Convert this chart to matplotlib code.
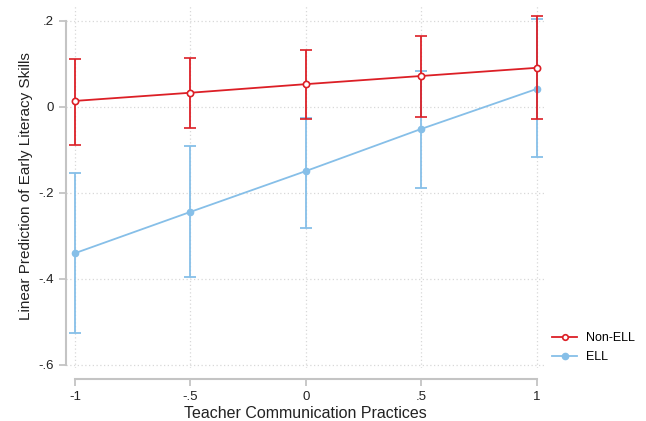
import matplotlib
matplotlib.use('Agg')
import matplotlib.pyplot as plt
from matplotlib.lines import Line2D

plt.rcParams['font.family'] = ['Liberation Sans', 'DejaVu Sans']

# data
x = [-1, -0.5, 0, 0.5, 1]
xticklabels = ['-1', '-.5', '0', '.5', '1']
yticks = [0.2, 0, -0.2, -0.4, -0.6]
yticklabels = ['.2', '0', '-.2', '-.4', '-.6']

nonell = [0.014, 0.033, 0.053, 0.072, 0.091]
nonell_lo = [-0.088, -0.049, -0.028, -0.023, -0.028]
nonell_hi = [0.112, 0.114, 0.133, 0.165, 0.212]

ell = [-0.340, -0.244, -0.149, -0.051, 0.042]
ell_lo = [-0.526, -0.395, -0.281, -0.188, -0.116]
ell_hi = [-0.153, -0.091, -0.026, 0.084, 0.205]

red = '#dc1f26'
blue = '#86bfe8'
gray = '#c4c4c4'

fig = plt.figure(figsize=(6.46, 4.21), dpi=100)
ax = fig.add_axes([66 / 646, 1 - 368 / 421, (545 - 66) / 646, (368 - 5) / 421])

def err(v, lo, hi):
    return [[a - b for a, b in zip(v, lo)], [b - a for a, b in zip(v, hi)]]

ax.errorbar(x, ell, yerr=err(ell, ell_lo, ell_hi), color=blue, lw=1.3,
            marker='o', ms=4.5, capsize=4, capthick=1.3, elinewidth=1.3, zorder=3)
ax.errorbar(x, nonell, yerr=err(nonell, nonell_lo, nonell_hi), color=red, lw=1.3,
            marker='o', ms=4.5, mfc='white', mec=red, mew=1.2, capsize=4,
            capthick=1.3, elinewidth=1.3, zorder=4)

ax.set_xlim(-1.039, 1.035)
ax.set_ylim(-0.607, 0.237)
ax.set_xticks(x)
ax.set_xticklabels(xticklabels)
ax.set_yticks(yticks)
ax.set_yticklabels(yticklabels)

ax.grid(True, color='#d8d8d8', linestyle=(0, (1, 2)), lw=0.9)
ax.set_axisbelow(True)

for s in ['top', 'right']:
    ax.spines[s].set_visible(False)
ax.spines['left'].set_bounds(-0.6, 0.2)
ax.spines['bottom'].set_bounds(-1, 1)
ax.spines['bottom'].set_position(('outward', 8))
for s in ['left', 'bottom']:
    ax.spines[s].set_color(gray)
    ax.spines[s].set_linewidth(1.5)
ax.tick_params(colors=gray, length=5, width=1.3, labelsize=9.5, labelcolor='#222222')

ax.set_xlabel('Teacher Communication Practices', fontsize=11.5, color='#222222', labelpad=2)
ax.set_ylabel('Linear Prediction of Early Literacy Skills', fontsize=11, color='#222222', labelpad=4)

handles = [Line2D([], [], color=red, lw=1.3, marker='o', ms=4, mfc='white', mec=red, mew=1.2),
           Line2D([], [], color=blue, lw=1.3, marker='o', ms=4.5)]
fig.legend(handles, ['Non-ELL', 'ELL'], loc='upper left', bbox_to_anchor=(552 / 646, 1 - 332 / 421),
           frameon=False, fontsize=9, handlelength=2.0, labelspacing=0.55,
           handletextpad=0.7, borderaxespad=0, borderpad=0)

fig.savefig('out.png', dpi=100)
